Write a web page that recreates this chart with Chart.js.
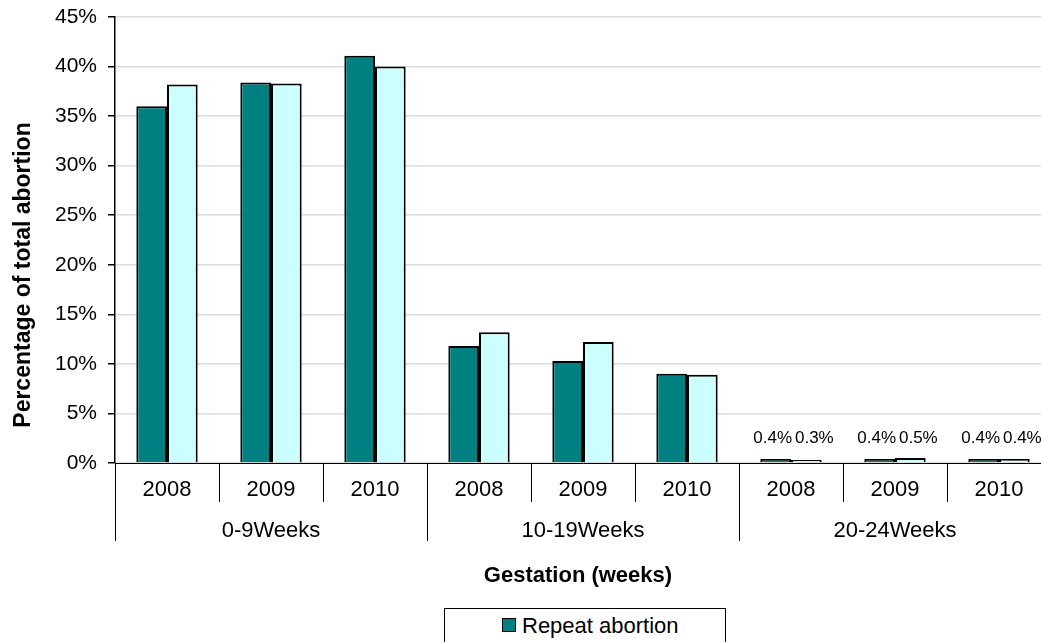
<!DOCTYPE html>
<html>
<head>
<meta charset="utf-8">
<title>Repeat abortion by gestation</title>
<script src="https://cdn.jsdelivr.net/npm/chart.js@4.4.0/dist/chart.umd.min.js"></script>
<style>
    html, body { margin: 0; padding: 0; background: #fff; overflow: hidden; }
    #wrap { position: relative; width: 1041px; height: 642px; overflow: hidden; }
    #chart { position: absolute; left: 0; top: 0; }
    .legend {
        position: absolute; left: 444px; top: 608px; width: 282px; height: 70px;
        border: 1px solid #000; background: #fff; box-sizing: border-box;
        font-family: "Liberation Sans", Arial, sans-serif; font-size: 22px; color: #000;
    }
    .legend .row { position: absolute; left: 57px; height: 26px; line-height: 26px; white-space: nowrap; }
    .legend .swatch {
        display: inline-block; width: 12px; height: 12px; border: 1px solid #000;
        margin-right: 6px; vertical-align: 1px;
    }
</style>
</head>
<body>
<div id="wrap">
    <canvas id="chart" width="1060" height="642"></canvas>
    <div class="legend">
        <div class="row" style="top:4px"><span class="swatch" style="background:#008080"></span>Repeat abortion</div>
        <div class="row" style="top:32px"><span class="swatch" style="background:#CCFFFF"></span>Total abortion</div>
    </div>
</div>
<script>
// Data
const years = ['2008', '2009', '2010', '2008', '2009', '2010', '2008', '2009', '2010'];
const groups = ['0-9Weeks', '10-19Weeks', '20-24Weeks'];
const repeatAbortion = [36.0, 38.4, 41.1, 11.8, 10.3, 9.0, 0.4, 0.4, 0.4];
const totalAbortion = [38.2, 38.3, 40.0, 13.2, 12.2, 8.9, 0.3, 0.5, 0.4];
const labelledIndexes = [6, 7, 8];

const FONT = '"Liberation Sans", Arial, sans-serif';

// Draws year / group labels, separators, axis titles and value labels
const extrasPlugin = {
    id: 'extras',
    afterDraw(chart) {
        const ctx = chart.ctx;
        const x = chart.scales.x;
        const area = chart.chartArea;
        const step = x.getPixelForValue(1) - x.getPixelForValue(0);
        ctx.save();

        // separators under the axis
        ctx.strokeStyle = '#000';
        ctx.lineWidth = 1;
        for (let i = 0; i <= years.length; i++) {
            const px = Math.round(x.getPixelForValue(i) - step / 2) + 0.5;
            const isGroupEdge = i % 3 === 0;
            ctx.beginPath();
            ctx.moveTo(px, area.bottom);
            ctx.lineTo(px, isGroupEdge ? 541 : 502);
            ctx.stroke();
        }

        // year labels
        ctx.fillStyle = '#000';
        ctx.font = '22px ' + FONT;
        ctx.textAlign = 'center';
        ctx.textBaseline = 'alphabetic';
        years.forEach((y, i) => {
            ctx.fillText(y, x.getPixelForValue(i), 496);
        });

        // group labels
        groups.forEach((g, gi) => {
            const cx = x.getPixelForValue(gi * 3 + 1);
            ctx.fillText(g, cx, 537);
        });

        // value labels on the last group
        ctx.font = '17px ' + FONT;
        const offsets = [-3, 8];
        chart.data.datasets.forEach((ds, di) => {
            const meta = chart.getDatasetMeta(di);
            labelledIndexes.forEach(idx => {
                const bar = meta.data[idx];
                ctx.fillText(ds.data[idx].toFixed(1) + '%', bar.x + offsets[di], 443);
            });
        });

        // axis titles
        ctx.font = 'bold 22px ' + FONT;
        ctx.fillText('Gestation (weeks)', (area.left + area.right) / 2 - 5, 582);

        ctx.font = 'bold 23px ' + FONT;
        ctx.translate(30, 275);
        ctx.rotate(-Math.PI / 2);
        ctx.fillText('Percentage of total abortion', 0, 0);

        ctx.restore();
    }
};

const ctx = document.getElementById('chart').getContext('2d');
const chart = new Chart(ctx, {
    type: 'bar',
    data: {
        labels: years,
        datasets: [{
            label: 'Repeat abortion',
            data: repeatAbortion,
            backgroundColor: '#008080',
            borderColor: '#000',
            borderWidth: 2
        }, {
            label: 'Total abortion',
            data: totalAbortion,
            backgroundColor: '#CCFFFF',
            borderColor: '#000',
            borderWidth: 2
        }]
    },
    options: {
        responsive: false,
        animation: false,
        layout: {
            padding: { top: 17, right: 9, left: 0, bottom: 0 }
        },
        plugins: {
            legend: { display: false },
            tooltip: { enabled: false }
        },
        datasets: {
            bar: {
                barPercentage: 1.0,
                categoryPercentage: 0.59
            }
        },
        scales: {
            x: {
                ticks: { display: false },
                grid: { display: false },
                border: { display: true, color: '#000', width: 1 },
                afterFit: function(scale) {
                    scale.height = 179;
                }
            },
            y: {
                min: 0,
                max: 45,
                ticks: {
                    stepSize: 5,
                    padding: 11,
                    color: '#000',
                    font: { family: FONT, size: 21 },
                    callback: function(value) {
                        return value + '%';
                    }
                },
                grid: {
                    color: '#dcdcdc',
                    lineWidth: 1.5,
                    tickColor: '#000',
                    tickLength: 7,
                    drawTicks: true
                },
                border: { display: true, color: '#000', width: 1.5 },
                afterFit: function(scale) {
                    scale.width = 115;
                    scale.paddingTop = 0;
                    scale.paddingBottom = 0;
                }
            }
        }
    },
    plugins: [extrasPlugin]
});
</script>
</body>
</html>
